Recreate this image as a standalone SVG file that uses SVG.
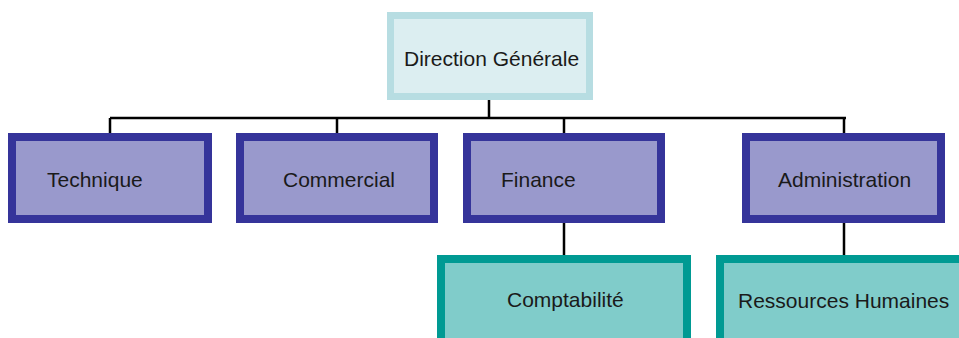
<svg xmlns="http://www.w3.org/2000/svg" width="959" height="338" viewBox="0 0 959 338">
<style>
.top{fill:#DCEEF1;stroke:#B7DDE2;stroke-width:7}
.dept{fill:#9999CC;stroke:#35349A;stroke-width:8}
.sub{fill:#80CCCA;stroke:#009A93;stroke-width:8}
.lbl{font-family:"Liberation Sans",Arial,sans-serif;font-size:21px;fill:#1a1a1a}
.conn{stroke:#000;stroke-width:2.5;fill:none}
</style>
<rect width="959" height="338" fill="#fff"/>
<g id="connectors">
<path class="conn" d="M489 100V118M110 118H846M110 118V133M337 118V133M564 118V133M844 118V133M564 222V255M844 222V255"/>
</g>
<g id="direction-generale">
<rect class="top" x="390.5" y="15.5" width="199" height="81"/>
<text class="lbl" x="404" y="66">Direction Générale</text>
</g>
<g id="technique">
<rect class="dept" x="12" y="137" width="196" height="82"/>
<text class="lbl" x="47" y="187">Technique</text>
</g>
<g id="commercial">
<rect class="dept" x="240" y="137" width="194" height="82"/>
<text class="lbl" x="283" y="187">Commercial</text>
</g>
<g id="finance">
<rect class="dept" x="467" y="137" width="194" height="82"/>
<text class="lbl" x="501" y="187">Finance</text>
</g>
<g id="administration">
<rect class="dept" x="746" y="137" width="195" height="82"/>
<text class="lbl" x="778" y="187">Administration</text>
</g>
<g id="comptabilite">
<rect class="sub" x="441" y="259" width="246" height="100"/>
<text class="lbl" x="507" y="307">Comptabilité</text>
</g>
<g id="ressources-humaines">
<rect class="sub" x="720" y="259" width="260" height="100"/>
<text class="lbl" x="738" y="308">Ressources Humaines</text>
</g>
</svg>
